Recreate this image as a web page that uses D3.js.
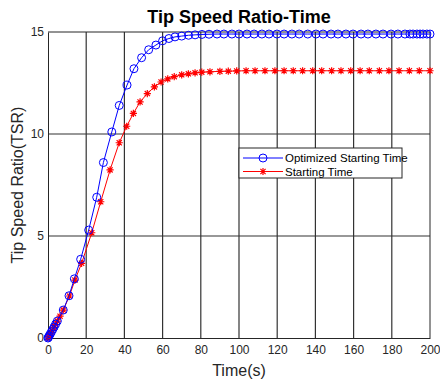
<!DOCTYPE html>
<html>
<head>
<meta charset="utf-8">
<script src="https://cdn.jsdelivr.net/npm/d3@7"></script>
<style>
  body { margin: 0; background: #fff; }
  svg { font-family: "Liberation Sans", Arial, sans-serif; }
</style>
</head>
<body>
<svg id="chart"></svg>
<script>
// Optimized starting time (blue circles)
const optTime = [0, 0.3, 0.7, 1.2, 1.8, 2.5, 3.2, 4, 4.9, 8, 11, 13.8, 17.1, 21.3, 25.5, 29, 33.4, 37.3, 41.4, 45, 49, 52.7, 56.5, 60, 63.3, 66.5, 70, 73.6, 77, 80.6, 84.3, 88.5, 92.1, 96.3, 100, 104.2, 107.9, 112, 115.7, 119.9, 123.6, 127.7, 131.5, 136, 140.3, 144, 148.2, 151.8, 156, 159.7, 163.9, 167.5, 171.7, 175.4, 179.6, 183.2, 186.9, 189.5, 191.1, 193.2, 194.8, 196.3, 198.4, 200];
const optTSR = [0, 0.05, 0.12, 0.2, 0.3, 0.42, 0.54, 0.68, 0.83, 1.37, 2.07, 2.9, 3.86, 5.29, 6.9, 8.6, 10.1, 11.4, 12.4, 13.2, 13.74, 14.13, 14.36, 14.57, 14.68, 14.76, 14.8, 14.84, 14.86, 14.88, 14.89, 14.9, 14.9, 14.9, 14.9, 14.9, 14.9, 14.9, 14.9, 14.9, 14.9, 14.9, 14.9, 14.9, 14.9, 14.9, 14.9, 14.9, 14.9, 14.9, 14.9, 14.9, 14.9, 14.9, 14.9, 14.9, 14.9, 14.9, 14.9, 14.9, 14.9, 14.9, 14.9, 14.9];

// Starting time (red asterisks)
const startTime = [0, 0.4, 0.9, 1.5, 2.2, 3, 3.9, 4.9, 6.3, 8, 11.2, 14.1, 17.6, 22.9, 27.6, 32.5, 37.3, 41.2, 44.7, 48.2, 52, 55.7, 59.2, 62.7, 66.1, 70, 73.5, 77, 80.5, 84.8, 90, 94.4, 98.8, 103.7, 108.4, 113.6, 118.8, 123.6, 128.4, 133.3, 138.6, 143.3, 148.5, 153.4, 158.5, 163.4, 168.2, 173.5, 178.5, 183.8, 189.2, 194.4, 200];
const startTSR = [0, 0.07, 0.15, 0.25, 0.37, 0.51, 0.66, 0.83, 1.07, 1.37, 2.06, 2.84, 3.66, 5.16, 6.68, 8.24, 9.57, 10.38, 11.01, 11.57, 11.98, 12.31, 12.55, 12.7, 12.81, 12.9, 12.95, 13.0, 13.03, 13.05, 13.07, 13.08, 13.09, 13.1, 13.1, 13.1, 13.1, 13.1, 13.1, 13.1, 13.1, 13.1, 13.1, 13.1, 13.1, 13.1, 13.1, 13.1, 13.1, 13.1, 13.1, 13.1, 13.1];

const xTicks = [0, 20, 40, 60, 80, 100, 120, 140, 160, 180, 200];
const yTicks = [0, 5, 10, 15];
const seriesNames = ["Optimized Starting Time", "Starting Time"];

const width = 440, height = 383;
const marginLeft = 48, marginRight = 10, marginTop = 32, marginBottom = 45;

const svg = d3.select("#chart")
    .attr("width", width)
    .attr("height", height)
    .attr("viewBox", [0, 0, width, height]);

const x = d3.scaleLinear([0, 200], [marginLeft, width - marginRight]);
const y = d3.scaleLinear([0, 15], [height - marginBottom, marginTop]);

// white plot area
svg.append("rect")
    .attr("x", x(0)).attr("y", y(15))
    .attr("width", x(200) - x(0)).attr("height", y(0) - y(15))
    .attr("fill", "#fff");

// grid
const grid = svg.append("g").attr("stroke", "#333").attr("stroke-width", 1.2);
grid.selectAll(".vg")
  .data(xTicks.filter(d => d > 0 && d < 200))
  .join("line")
    .attr("x1", d => x(d)).attr("x2", d => x(d))
    .attr("y1", y(0)).attr("y2", y(15));
grid.selectAll(".hg")
  .data(yTicks.filter(d => d > 0 && d < 15))
  .join("line")
    .attr("x1", x(0)).attr("x2", x(200))
    .attr("y1", d => y(d)).attr("y2", d => y(d));

// axes
svg.append("g")
    .attr("transform", `translate(0,${y(0)})`)
    .call(d3.axisBottom(x).tickValues(xTicks).tickSize(0).tickPadding(7))
    .call(g => g.select(".domain").attr("stroke", "#262626"))
    .call(g => g.selectAll("text").attr("fill", "#262626").attr("font-size", 12)
      .attr("font-family", "Liberation Sans, Arial, sans-serif"));

svg.append("g")
    .attr("transform", `translate(${x(0)},0)`)
    .call(d3.axisLeft(y).tickValues(yTicks).tickSize(0).tickPadding(4))
    .call(g => g.select(".domain").attr("stroke", "#262626"))
    .call(g => g.selectAll("text").attr("fill", "#262626").attr("font-size", 12)
      .attr("font-family", "Liberation Sans, Arial, sans-serif"));

// box top and right
svg.append("line")
    .attr("x1", x(0)).attr("x2", x(200)).attr("y1", y(15)).attr("y2", y(15))
    .attr("stroke", "#262626");
svg.append("line")
    .attr("x1", x(200)).attr("x2", x(200)).attr("y1", y(0)).attr("y2", y(15))
    .attr("stroke", "#262626");

const line = d3.line();

// red series
const redPts = startTime.map((t, i) => [x(t), y(startTSR[i])]);
svg.append("path")
    .attr("d", line(redPts))
    .attr("fill", "none").attr("stroke", "#ff0000").attr("stroke-width", 1);

const star = s => `M${-s},0H${s}M0,${-s}V${s}M${-s*0.72},${-s*0.72}L${s*0.72},${s*0.72}M${-s*0.72},${s*0.72}L${s*0.72},${-s*0.72}`;

svg.append("g")
  .selectAll("path")
  .data(redPts)
  .join("path")
    .attr("transform", d => `translate(${d[0]},${d[1]})`)
    .attr("d", star(3.6))
    .attr("stroke", "#ff0000").attr("stroke-width", 1.2).attr("fill", "none");

// blue series
const bluePts = optTime.map((t, i) => [x(t), y(optTSR[i])]);
svg.append("path")
    .attr("d", line(bluePts))
    .attr("fill", "none").attr("stroke", "#0000ff").attr("stroke-width", 1);

svg.append("g")
  .selectAll("circle")
  .data(bluePts)
  .join("circle")
    .attr("cx", d => d[0]).attr("cy", d => d[1])
    .attr("r", 4)
    .attr("fill", "none").attr("stroke", "#0000ff").attr("stroke-width", 1);

// title and labels
svg.append("text")
    .attr("x", (x(0) + x(200)) / 2).attr("y", 23)
    .attr("text-anchor", "middle")
    .attr("font-size", 18).attr("font-weight", "bold")
    .attr("fill", "#000")
    .text("Tip Speed Ratio-Time");

svg.append("text")
    .attr("x", (x(0) + x(200)) / 2).attr("y", 376)
    .attr("text-anchor", "middle")
    .attr("font-size", 16)
    .attr("fill", "#262626")
    .text("Time(s)");

svg.append("text")
    .attr("transform", `translate(23,${(y(0) + y(15)) / 2}) rotate(-90)`)
    .attr("text-anchor", "middle")
    .attr("font-size", 16)
    .attr("fill", "#262626")
    .text("Tip Speed Ratio(TSR)");

// legend
const lg = svg.append("g").attr("transform", "translate(239,148)");
lg.append("rect")
    .attr("width", 163).attr("height", 30)
    .attr("fill", "#fff").attr("stroke", "#262626").attr("stroke-width", 1);

const colors = ["#0000ff", "#ff0000"];
seriesNames.forEach((name, i) => {
  const ly = 10 + i * 13.5;
  lg.append("line")
      .attr("x1", 4).attr("x2", 44).attr("y1", ly).attr("y2", ly)
      .attr("stroke", colors[i]);
  if (i === 0) {
    lg.append("circle").attr("cx", 24).attr("cy", ly).attr("r", 4)
        .attr("fill", "none").attr("stroke", colors[i]);
  } else {
    lg.append("path").attr("transform", `translate(24,${ly})`).attr("d", star(3.6))
        .attr("stroke", colors[i]).attr("stroke-width", 1.2);
  }
  lg.append("text")
      .attr("x", 46).attr("y", ly + 4)
      .attr("font-size", 11.5).attr("fill", "#000")
      .text(name);
});
</script>
</body>
</html>
